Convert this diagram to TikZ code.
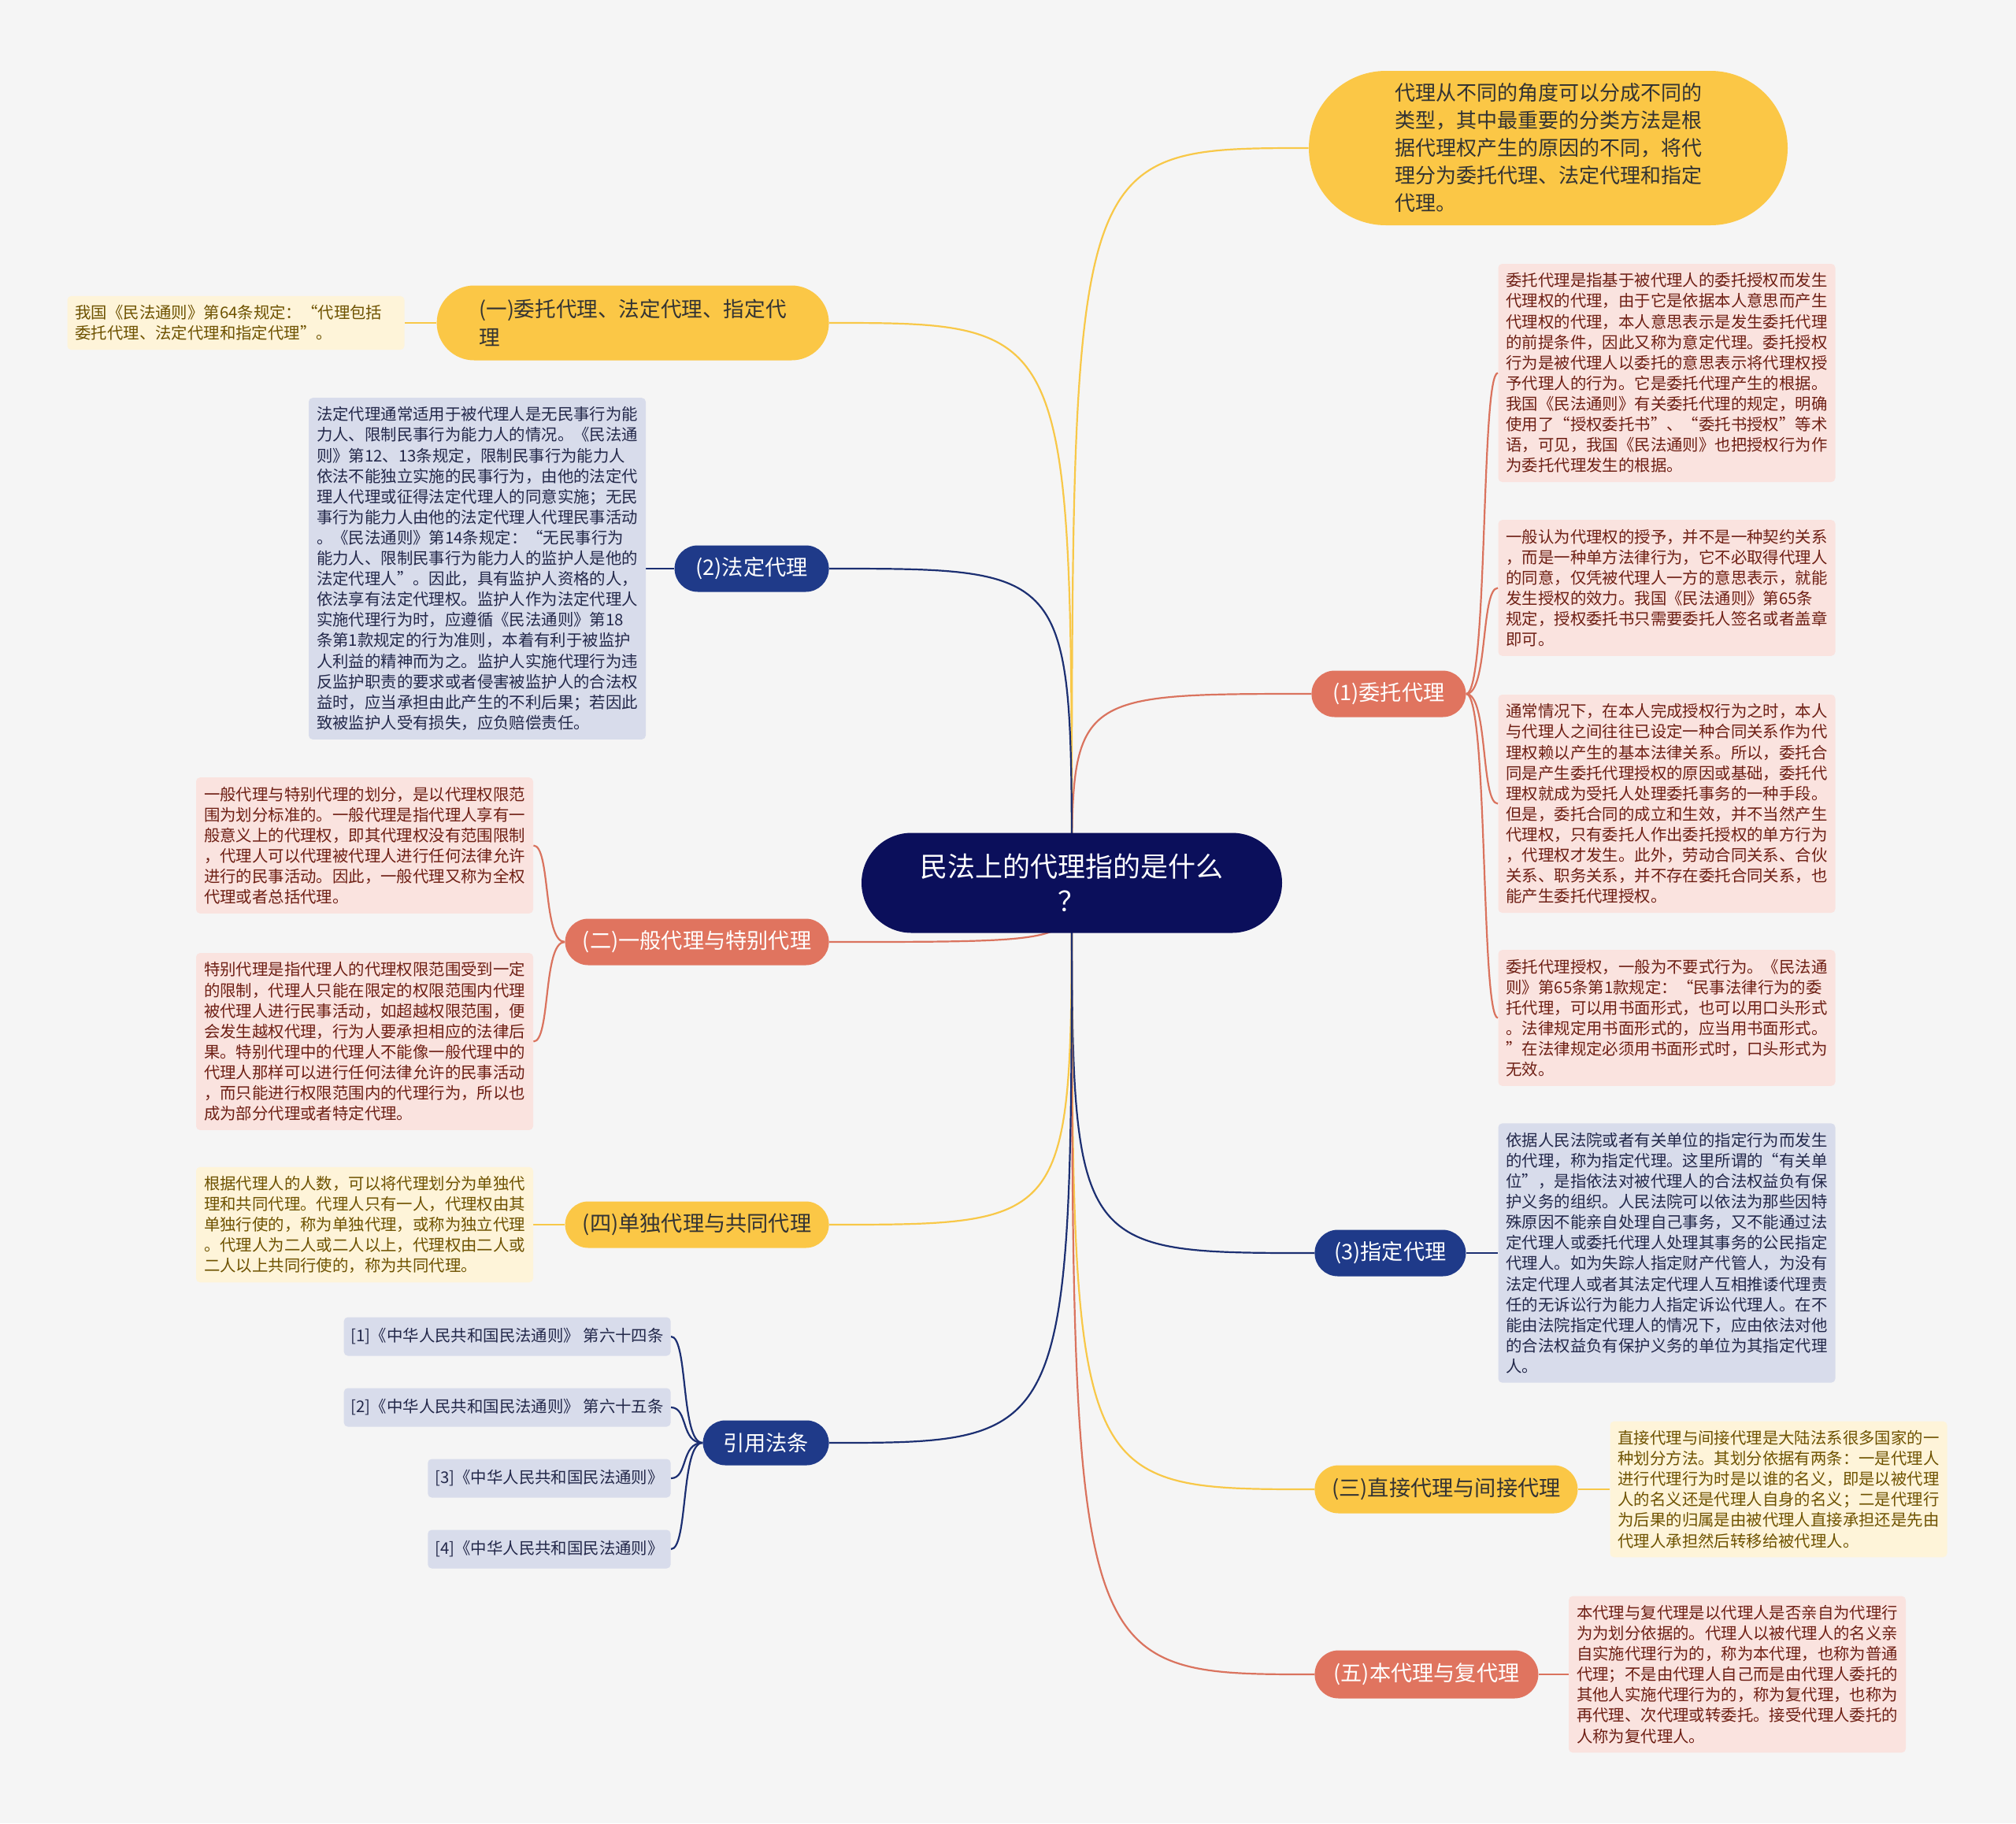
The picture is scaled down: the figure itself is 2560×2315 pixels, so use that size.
\documentclass[tikz,border=0pt]{standalone}
\usepackage{fontspec}
\setmainfont{Noto Sans CJK SC}
\usetikzlibrary{shapes.misc,backgrounds}
\definecolor{bgc}{HTML}{F5F5F5}
\definecolor{rootc}{HTML}{0B0F5B}
\definecolor{yel}{HTML}{FBC746}
\definecolor{sal}{HTML}{E0745F}
\definecolor{nav}{HTML}{1F3A89}
\definecolor{ytext}{HTML}{333333}
\definecolor{pinkbg}{HTML}{FAE3DF}
\definecolor{pinktx}{HTML}{6E1F14}
\definecolor{bluebg}{HTML}{D8DCEB}
\definecolor{bluetx}{HTML}{23284A}
\definecolor{yelbg}{HTML}{FEF4D9}
\definecolor{yeltx}{HTML}{6E5200}
\definecolor{lyel}{HTML}{F8C848}
\definecolor{lsal}{HTML}{DA735E}
\definecolor{lnav}{HTML}{1C2F72}
\begin{document}
\begin{tikzpicture}[x=0.5pt,y=-0.5pt,
  rootnode/.style={rounded rectangle, fill=rootc, text=white, align=center,
    font=\fontsize{17.5pt}{22pt}\selectfont, minimum width=267pt, minimum height=63.5pt, inner sep=0pt},
  pill/.style={rounded rectangle, minimum height=29.5pt, inner sep=0pt,
    font=\fontsize{13.6pt}{18pt}\selectfont},
  ynode/.style={pill, fill=yel, text=ytext},
  snode/.style={pill, fill=sal, text=white},
  bnode/.style={pill, fill=nav, text=white},
  leaf/.style={rounded corners=2.5pt, text width=204pt, inner xsep=5pt, inner ysep=4pt,
    align=left, font=\fontsize{10.2pt}{13.05pt}\selectfont},
  nl/.style={minimum height={#1*13.05pt+8pt}},
  pleaf/.style={leaf, fill=pinkbg, text=pinktx},
  bleaf/.style={leaf, fill=bluebg, text=bluetx},
  yleaf/.style={leaf, fill=yelbg, text=yeltx},
  refbox/.style={rounded corners=2.5pt, fill=bluebg, text=bluetx, anchor=east,
    font=\fontsize{10.2pt}{13pt}\selectfont, minimum height=24.5pt, inner xsep=4.5pt, inner ysep=0pt},
  cy/.style={draw=lyel, line width=1.1pt},
  cs/.style={draw=lsal, line width=1.1pt},
  cn/.style={draw=lnav, line width=1.1pt}
]
\useasboundingbox (0,0) rectangle (2560,2315);

% root
\node[rootnode] (root) at (1361,1121) {民法上的代理指的是什么\\？};

% right side
\node[rounded rectangle, fill=yel, text=ytext, align=left, inner sep=0pt,
  minimum width=304pt, minimum height=98pt, font=\fontsize{13pt}{17.5pt}\selectfont]
  (tr) at (1966,188) {代理从不同的角度可以分成不同的\\类型，其中最重要的分类方法是根\\据代理权产生的原因的不同，将代\\理分为委托代理、法定代理和指定\\代理。};
\node[snode, anchor=west, minimum width=98pt] (wt) at (1665,881) {(1)委托代理};
\node[bnode, anchor=west, minimum width=96pt] (zd) at (1669,1591) {(3)指定代理};
\node[ynode, anchor=west, minimum width=167pt, minimum height=30.5pt] (zj) at (1669,1891) {(三)直接代理与间接代理};
\node[snode, anchor=west, minimum width=142pt, minimum height=30.5pt] (bd) at (1669,2126) {(五)本代理与复代理};

% left side
\node[ynode, anchor=east, align=left, minimum width=249pt, minimum height=47.5pt,
  font=\fontsize{13.3pt}{18pt}\selectfont] (y1) at (1053,410) {(一)委托代理、法定代理、指定代\\理};
\node[bnode, anchor=east, minimum width=98pt] (fd) at (1053,722) {(2)法定代理};
\node[snode, anchor=east, minimum width=167.5pt] (yb) at (1053,1196) {(二)一般代理与特别代理};
\node[ynode, anchor=east, minimum width=167.5pt] (dd) at (1053,1555) {(四)单独代理与共同代理};
\node[bnode, anchor=east, minimum width=80pt, minimum height=28.5pt] (yy) at (1053,1832) {引用法条};

% leaves right
\node[pleaf, nl=10] (rp1) at (2116.5,473.5) {委托代理是指基于被代理人的委托授权而发生\\代理权的代理，由于它是依据本人意思而产生\\代理权的代理，本人意思表示是发生委托代理\\的前提条件，因此又称为意定代理。委托授权\\行为是被代理人以委托的意思表示将代理权授\\予代理人的行为。它是委托代理产生的根据。\\我国《民法通则》有关委托代理的规定，明确\\使用了“授权委托书”、“委托书授权”等术\\语，可见，我国《民法通则》也把授权行为作\\为委托代理发生的根据。};
\node[pleaf, nl=6] (rp2) at (2116.5,746.5) {一般认为代理权的授予，并不是一种契约关系\\，而是一种单方法律行为，它不必取得代理人\\的同意，仅凭被代理人一方的意思表示，就能\\发生授权的效力。我国《民法通则》第65条\\规定，授权委托书只需要委托人签名或者盖章\\即可。};
\node[pleaf, nl=10] (rp3) at (2116.5,1020.5) {通常情况下，在本人完成授权行为之时，本人\\与代理人之间往往已设定一种合同关系作为代\\理权赖以产生的基本法律关系。所以，委托合\\同是产生委托代理授权的原因或基础，委托代\\理权就成为受托人处理委托事务的一种手段。\\但是，委托合同的成立和生效，并不当然产生\\代理权，只有委托人作出委托授权的单方行为\\，代理权才发生。此外，劳动合同关系、合伙\\关系、职务关系，并不存在委托合同关系，也\\能产生委托代理授权。};
\node[pleaf, nl=6] (rp4) at (2116.5,1292.5) {委托代理授权，一般为不要式行为。《民法通\\则》第65条第1款规定：“民事法律行为的委\\托代理，可以用书面形式，也可以用口头形式\\。法律规定用书面形式的，应当用书面形式。\\”在法律规定必须用书面形式时，口头形式为\\无效。};
\node[bleaf, nl=12] (rb) at (2116.5,1591) {依据人民法院或者有关单位的指定行为而发生\\的代理，称为指定代理。这里所谓的“有关单\\位”，是指依法对被代理人的合法权益负有保\\护义务的组织。人民法院可以依法为那些因特\\殊原因不能亲自处理自己事务，又不能通过法\\定代理人或委托代理人处理其事务的公民指定\\代理人。如为失踪人指定财产代管人，为没有\\法定代理人或者其法定代理人互相推诿代理责\\任的无诉讼行为能力人指定诉讼代理人。在不\\能由法院指定代理人的情况下，应由依法对他\\的合法权益负有保护义务的单位为其指定代理\\人。};
\node[yleaf, nl=6] (ry) at (2258.5,1891) {直接代理与间接代理是大陆法系很多国家的一\\种划分方法。其划分依据有两条：一是代理人\\进行代理行为时是以谁的名义，即是以被代理\\人的名义还是代理人自身的名义；二是代理行\\为后果的归属是由被代理人直接承担还是先由\\代理人承担然后转移给被代理人。};
\node[pleaf, nl=7] (rpb) at (2206,2126) {本代理与复代理是以代理人是否亲自为代理行\\为为划分依据的。代理人以被代理人的名义亲\\自实施代理行为的，称为本代理，也称为普通\\代理；不是由代理人自己而是由代理人委托的\\其他人实施代理行为的，称为复代理，也称为\\再代理、次代理或转委托。接受代理人委托的\\人称为复代理人。};

% leaves left
\node[yleaf, nl=2] (ly1) at (299.5,410) {我国《民法通则》第64条规定：“代理包括\\委托代理、法定代理和指定代理”。};
\node[bleaf, nl=16] (lb) at (606,722) {法定代理通常适用于被代理人是无民事行为能\\力人、限制民事行为能力人的情况。《民法通\\则》第12、13条规定，限制民事行为能力人\\依法不能独立实施的民事行为，由他的法定代\\理人代理或征得法定代理人的同意实施；无民\\事行为能力人由他的法定代理人代理民事活动\\。《民法通则》第14条规定：“无民事行为\\能力人、限制民事行为能力人的监护人是他的\\法定代理人”。因此，具有监护人资格的人，\\依法享有法定代理权。监护人作为法定代理人\\实施代理行为时，应遵循《民法通则》第18\\条第1款规定的行为准则，本着有利于被监护\\人利益的精神而为之。监护人实施代理行为违\\反监护职责的要求或者侵害被监护人的合法权\\益时，应当承担由此产生的不利后果；若因此\\致被监护人受有损失，应负赔偿责任。};
\node[pleaf, nl=6] (lp1) at (463,1073.5) {一般代理与特别代理的划分，是以代理权限范\\围为划分标准的。一般代理是指代理人享有一\\般意义上的代理权，即其代理权没有范围限制\\，代理人可以代理被代理人进行任何法律允许\\进行的民事活动。因此，一般代理又称为全权\\代理或者总括代理。};
\node[pleaf, nl=8] (lp2) at (463,1322.5) {特别代理是指代理人的代理权限范围受到一定\\的限制，代理人只能在限定的权限范围内代理\\被代理人进行民事活动，如超越权限范围，便\\会发生越权代理，行为人要承担相应的法律后\\果。特别代理中的代理人不能像一般代理中的\\代理人那样可以进行任何法律允许的民事活动\\，而只能进行权限范围内的代理行为，所以也\\成为部分代理或者特定代理。};
\node[yleaf, nl=5] (ly2) at (463,1555) {根据代理人的人数，可以将代理划分为单独代\\理和共同代理。代理人只有一人，代理权由其\\单独行使的，称为单独代理，或称为独立代理\\。代理人为二人或二人以上，代理权由二人或\\二人以上共同行使的，称为共同代理。};

% references
\node[refbox] (r1) at (852,1697) {[1]《中华人民共和国民法通则》 第六十四条};
\node[refbox] (r2) at (852,1787) {[2]《中华人民共和国民法通则》 第六十五条};
\node[refbox] (r3) at (852,1877) {[3]《中华人民共和国民法通则》};
\node[refbox] (r4) at (852,1967) {[4]《中华人民共和国民法通则》};

\begin{pgfonlayer}{background}
\fill[bgc] (0,0) rectangle (2560,2315);
% root connectors
\draw[cy] (root.center) .. controls (root.center |- tr.west) .. (tr.west);
\draw[cs] (root.center) .. controls (root.center |- wt.west) .. (wt.west);
\draw[cn] (root.center) .. controls (root.center |- zd.west) .. (zd.west);
\draw[cy] (root.center) .. controls (root.center |- zj.west) .. (zj.west);
\draw[cs] (root.center) .. controls (root.center |- bd.west) .. (bd.west);
\draw[cy] (root.center) .. controls (root.center |- y1.east) .. (y1.east);
\draw[cn] (root.center) .. controls (root.center |- fd.east) .. (fd.east);
\draw[cs] (root.center) .. controls (root.center |- yb.east) .. (yb.east);
\draw[cy] (root.center) .. controls (root.center |- dd.east) .. (dd.east);
\draw[cn] (root.center) .. controls (root.center |- yy.east) .. (yy.east);
% leaf connectors
\foreach \t in {rp1,rp2,rp3,rp4}
  \draw[cs] (wt.east) .. controls +(28,0) and +(-22,0) .. (\t.west);
\foreach \t in {lp1,lp2}
  \draw[cs] (yb.west) .. controls +(-28,0) and +(22,0) .. (\t.east);
\foreach \t in {r1,r2,r3,r4}
  \draw[cn] (yy.west) .. controls +(-28,0) and +(22,0) .. (\t.east);
\draw[cn] (zd.east) -- (rb.west);
\draw[cy] (zj.east) -- (ry.west);
\draw[cs] (bd.east) -- (rpb.west);
\draw[cy] (y1.west) -- (ly1.east);
\draw[cn] (fd.west) -- (lb.east);
\draw[cy] (dd.west) -- (ly2.east);
\end{pgfonlayer}
\end{tikzpicture}
\end{document}
